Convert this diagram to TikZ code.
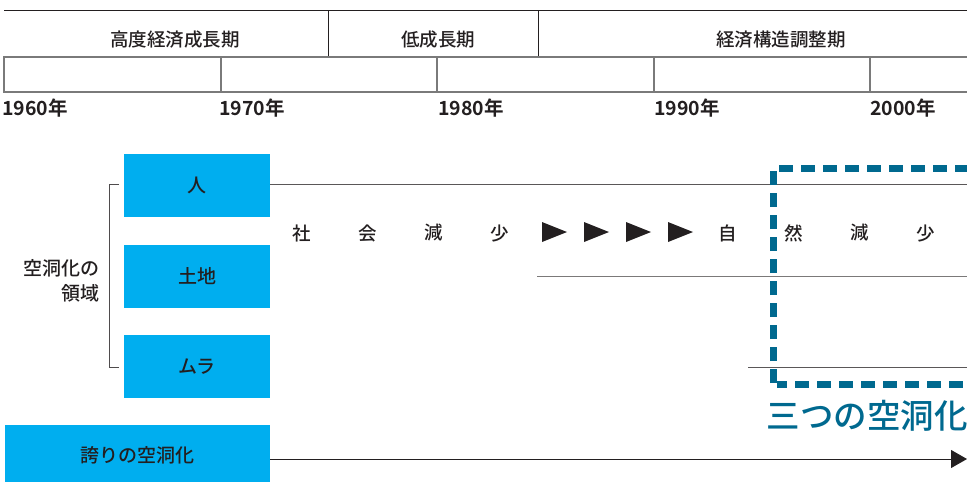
\documentclass[tikz,border=0pt]{standalone}
\usepackage{fontspec}
\setmainfont{Noto Sans CJK JP}
\newfontfamily\cjkmed{Noto Sans CJK JP Medium}
\newfontfamily\cjkbold{Noto Sans CJK JP Bold}
\usetikzlibrary{arrows.meta}
\definecolor{boxblue}{HTML}{00AEEF}
\definecolor{dashblue}{HTML}{00698F}
\definecolor{ink}{HTML}{231F20}
\definecolor{rule}{HTML}{7A7A7A}
\begin{document}
\begin{tikzpicture}[x=1pt,y=-1pt,
  toprule/.style={draw=ink,line width=0.9pt},
  cellrule/.style={draw=rule,line width=1.1pt},
  hline/.style={draw=ink!75,line width=1pt},
  period/.style={font=\fontsize{18.5}{18.5}\selectfont\cjkmed,text=ink,inner sep=0pt},
  year/.style={font=\fontsize{19.5}{19.5}\selectfont\cjkbold,text=ink,inner sep=0pt,anchor=west},
  bluebox/.style={fill=boxblue,draw=none,minimum width=146pt,minimum height=63pt,inner sep=0pt,text=ink,font=\fontsize{19}{19}\selectfont\cjkmed},
  char/.style={font=\fontsize{18.5}{18.5}\selectfont\cjkmed,text=ink,inner sep=0pt},
  tri/.style={fill=ink,draw=none}
]
\useasboundingbox (0,0) rectangle (967,482);
\clip (0,0) rectangle (967,482);

% timeline table
\draw[toprule] (4,10) -- (967,10);
\draw[toprule] (328,10) -- (328,57);
\draw[toprule] (538,10) -- (538,57);
\draw[cellrule] (990,57) -- (4,57) -- (4,92) -- (990,92);
\foreach \xx in {221,437,654,870} \draw[cellrule] (\xx,57) -- (\xx,92);

\node[period] (p1) at (175,40) {高度経済成長期};
\node[period] (p2) at (438,40) {低成長期};
\node[period] (p3) at (781,40) {経済構造調整期};

\node[year] (y1) at (2,108) {1960年};
\node[year] (y2) at (219,108) {1970年};
\node[year] (y3) at (438,108) {1980年};
\node[year] (y4) at (654,108) {1990年};
\node[year] (y5) at (870,108) {2000年};

% boxes
\node[bluebox] (hito) at (197,185.5) {人};
\node[bluebox] (tochi) at (197,276.5) {土地};
\node[bluebox] (mura) at (197,366.5) {ムラ};
\node[bluebox,minimum width=265pt,minimum height=60pt] (hokori) at (137.5,455) {誇りの空洞化};

% bracket
\coordinate (bt) at (119,184);
\coordinate (bb) at (119,367);
\draw[draw=ink!80,line width=1pt] (bt) -- (109,184) -- (109,367) -- (bb);
\node[font=\fontsize{19}{25}\selectfont\cjkmed,text=ink,align=right,anchor=east,inner sep=0pt] (ryoiki) at (100,281) {空洞化の\\領域};

% horizontal lines
\coordinate (e1) at (967,184);
\coordinate (s2) at (537,276);
\coordinate (e2) at (967,276);
\coordinate (s3) at (748,367);
\coordinate (e3) at (967,367);
\draw[hline] (hito.east |- e1) -- (e1);
\draw[hline,draw=ink!60] (s2) -- (e2);
\draw[hline] (s3) -- (e3);

% text row
\node[char] (c1) at (302,233) {社};
\node[char] (c2) at (368,233) {会};
\node[char] (c3) at (434,233) {減};
\node[char] (c4) at (500,233) {少};
\foreach \xx in {542,584,626,668} \fill[tri] (\xx,222) -- (\xx+25,232) -- (\xx,242) -- cycle;
\node[char] (c5) at (728,233) {自};
\node[char] (c6) at (794,233) {然};
\node[char] (c7) at (860,233) {減};
\node[char] (c8) at (926,233) {少};

% dashed box
\draw[draw=dashblue,line width=7pt,dash pattern=on 14pt off 8pt] (773.5,383) -- (773.5,168.5) -- (1000,168.5);
\draw[draw=dashblue,line width=7pt,dash pattern=on 14pt off 8pt,dash phase=4pt] (777,384.5) -- (1000,384.5);
\node[font=\fontsize{33.5}{33.5}\selectfont\cjkmed,text=dashblue,anchor=east,inner sep=0pt] (sanstu) at (968,416) {三つの空洞化};

% bottom arrow
\coordinate (aend) at (967,459);
\draw[draw=ink,line width=1pt,-{Triangle[length=16pt,width=18pt]}] (hokori.east |- aend) -- (aend);
\end{tikzpicture}
\end{document}
